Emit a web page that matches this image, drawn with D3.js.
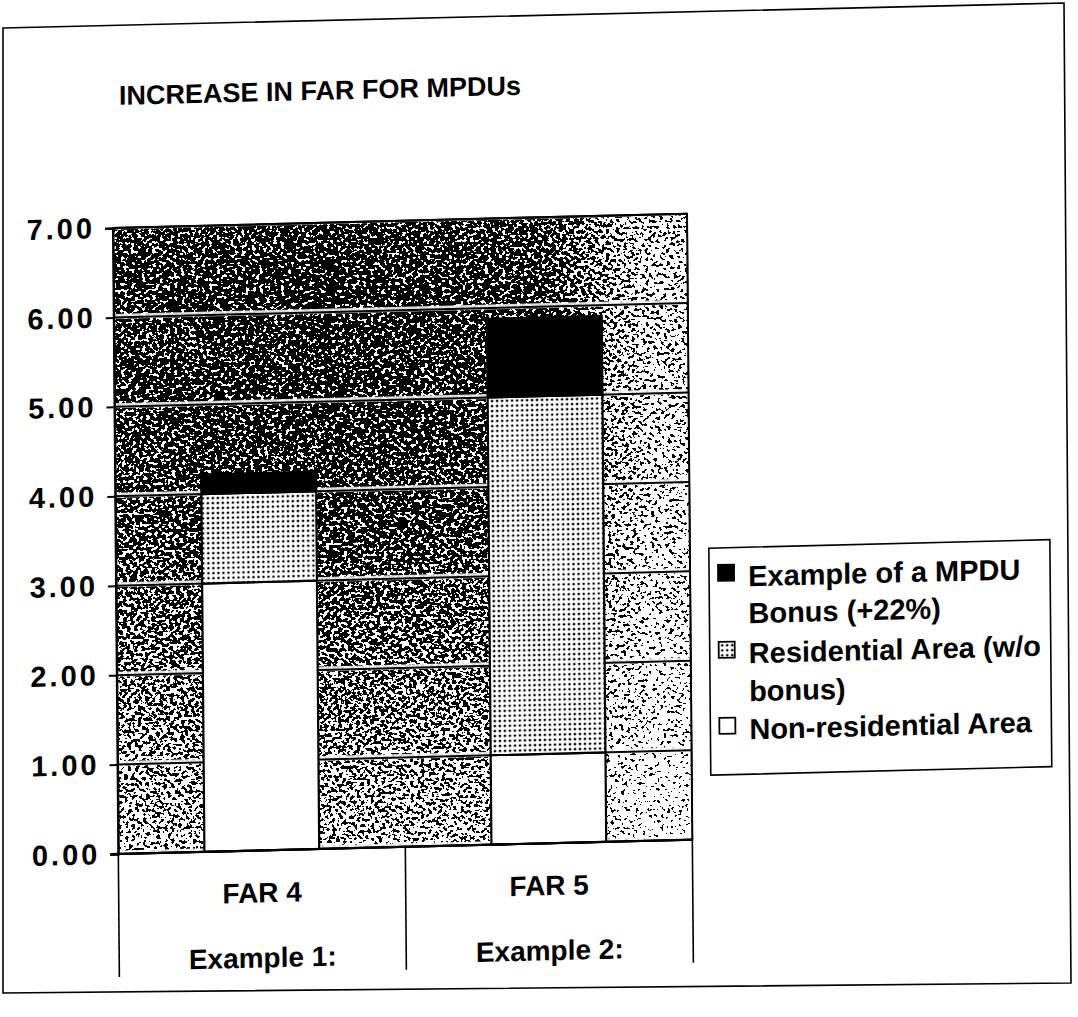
<!DOCTYPE html>
<html>
<head>
<meta charset="utf-8">
<script src="https://cdn.jsdelivr.net/npm/d3@7"></script>
<style>
  html, body { margin: 0; padding: 0; background: #fff; }
  svg { display: block; }
  text { font-family: "Liberation Sans", Arial, Helvetica, sans-serif; fill: #000; font-weight: bold; }
</style>
</head>
<body>
<svg id="chart" width="1078" height="1017"></svg>
<script>
// ---- data ----
const categories = ["FAR 4", "FAR 5"];
const categoryNotes = ["Example 1:", "Example 2:"];
const nonResidential = [3.0, 1.0];
const residential = [1.0, 4.0];
const mpduBonus = [0.22, 0.88];
const seriesKeys = ["nonResidential", "residential", "mpduBonus"];
const legendLines = [
  ["Example of a MPDU", "Bonus (+22%)"],
  ["Residential Area (w/o", "bonus)"],
  ["Non-residential Area"]
];
const legendKeys = ["mpduBonus", "residential", "nonResidential"];
const yTicks = [0, 1, 2, 3, 4, 5, 6, 7];
const titleText = "INCREASE IN FAR FOR MPDUs";

const rows = categories.map((c, i) => ({
  category: c,
  note: categoryNotes[i],
  nonResidential: nonResidential[i],
  residential: residential[i],
  mpduBonus: mpduBonus[i]
}));

// ---- layout ----
const plot = { left: 113, top: 228, width: 574, height: 626 };
const FONT = "\"Liberation Sans\", Arial, Helvetica, sans-serif";

const svg = d3.select("#chart");
const defs = svg.append("defs");

// grainy halftone used for the plot wall
const grain = defs.append("filter")
  .attr("id", "grain")
  .attr("x", 0).attr("y", 0).attr("width", 1).attr("height", 1)
  .attr("color-interpolation-filters", "sRGB");
grain.append("feTurbulence")
  .attr("type", "fractalNoise").attr("baseFrequency", "0.28 0.34")
  .attr("numOctaves", 3).attr("seed", 7).attr("result", "n");
grain.append("feColorMatrix")
  .attr("in", "n").attr("type", "matrix")
  .attr("values", "1 0 0 0 0  1 0 0 0 0  1 0 0 0 0  0 0 0 0 1")
  .attr("result", "ng");
grain.append("feComposite")
  .attr("in", "SourceGraphic").attr("in2", "ng")
  .attr("operator", "arithmetic")
  .attr("k1", 0).attr("k2", 1).attr("k3", 2.4).attr("k4", -1.2)
  .attr("result", "sum");
const ct = grain.append("feComponentTransfer").attr("in", "sum");
["feFuncR", "feFuncG", "feFuncB"].forEach(f =>
  ct.append(f).attr("type", "discrete").attr("tableValues", "0 1"));
ct.append("feFuncA").attr("type", "linear").attr("slope", 0).attr("intercept", 1);

// tone of the wall: darker in the upper middle, fading right and down
const rg = defs.append("radialGradient")
  .attr("id", "wallTone").attr("gradientUnits", "userSpaceOnUse")
  .attr("cx", plot.width * 0.36).attr("cy", plot.height * 0.15).attr("r", 640);
[[0, 0.27], [0.35, 0.34], [0.65, 0.5], [1, 0.72]].forEach(([o, g]) =>
  rg.append("stop").attr("offset", o).attr("stop-color", d3.rgb(g * 255, g * 255, g * 255)));

const lgH = defs.append("linearGradient")
  .attr("id", "wallRight").attr("gradientUnits", "userSpaceOnUse")
  .attr("x1", plot.width * 0.76).attr("y1", 0).attr("x2", plot.width * 0.92).attr("y2", 0);
lgH.append("stop").attr("offset", 0).attr("stop-color", "#fff").attr("stop-opacity", 0);
lgH.append("stop").attr("offset", 1).attr("stop-color", "#fff").attr("stop-opacity", 0.42);

// dotted fill for the residential segment
const dots = defs.append("pattern")
  .attr("id", "dots").attr("patternUnits", "userSpaceOnUse")
  .attr("width", 5).attr("height", 5);
dots.append("rect").attr("width", 5).attr("height", 5).attr("fill", "#fff");
dots.append("circle").attr("cx", 2.5).attr("cy", 2.5).attr("r", 1.3).attr("fill", "#000");

const fills = { nonResidential: "#fff", residential: "url(#dots)", mpduBonus: "#000" };

// outer frame
svg.append("path")
  .attr("d", "M3,28 L1064,3 L1071,983 L3,993 Z")
  .attr("fill", "none").attr("stroke", "#000").attr("stroke-width", 1.6);

// whole sheet sits slightly askew on the page
const a = 1, b = -0.025, c = 0.0085, d = 1;
const e = plot.left - (a * plot.left + c * plot.top);
const f = plot.top - (b * plot.left + d * plot.top);
const sheet = svg.append("g")
  .attr("transform", `matrix(${a},${b},${c},${d},${e},${f})`);

// title
sheet.append("text")
  .attr("x", 120).attr("y", 105)
  .attr("font-size", 27)
  .text(titleText);

// ---- scales ----
const x = d3.scaleBand().domain(categories)
  .range([0, plot.width]).paddingInner(0.6).paddingOuter(0.3);
const y = d3.scaleLinear().domain([0, 7]).range([plot.height, 0]);

const g = sheet.append("g").attr("transform", `translate(${plot.left},${plot.top})`);

// wall
const wall = g.append("g").attr("filter", "url(#grain)");
wall.append("rect").attr("width", plot.width).attr("height", plot.height).attr("fill", "url(#wallTone)");
wall.append("rect").attr("width", plot.width).attr("height", plot.height).attr("fill", "url(#wallRight)");

// gridlines (light halo keeps them readable over the grain)
const grid = g.append("g");
grid.selectAll("line.halo").data(yTicks).join("line")
  .attr("class", "halo")
  .attr("x1", 0).attr("x2", plot.width)
  .attr("y1", v => y(v) - 1).attr("y2", v => y(v) - 1)
  .attr("stroke", "#fff").attr("stroke-opacity", 0.85).attr("stroke-width", 5);
grid.selectAll("line.rule").data(yTicks).join("line")
  .attr("class", "rule")
  .attr("x1", 0).attr("x2", plot.width)
  .attr("y1", v => y(v)).attr("y2", v => y(v))
  .attr("stroke", "#000").attr("stroke-width", 2);

// stacked bars
const stack = d3.stack().keys(seriesKeys)(rows);
g.append("g").selectAll("g").data(stack).join("g")
  .attr("fill", s => fills[s.key])
  .selectAll("rect").data(s => s).join("rect")
  .attr("x", dd => x(dd.data.category))
  .attr("width", x.bandwidth())
  .attr("y", dd => y(dd[1]))
  .attr("height", dd => y(dd[0]) - y(dd[1]))
  .attr("stroke", "#000").attr("stroke-width", 2.2);

// plot border
g.append("rect").attr("width", plot.width).attr("height", plot.height)
  .attr("fill", "none").attr("stroke", "#000").attr("stroke-width", 2);

// value axis
const yAxis = g.append("g")
  .call(d3.axisLeft(y).tickValues(yTicks).tickFormat(d3.format(".2f")).tickSize(8).tickPadding(10));
yAxis.select(".domain").attr("stroke-width", 2);
yAxis.selectAll(".tick line").attr("stroke-width", 2);
yAxis.selectAll("text")
  .attr("font-family", FONT).attr("font-size", 29).attr("font-weight", "bold")
  .attr("letter-spacing", 3)
  .attr("fill", "#000");

// category axis: dividers and two-line labels
const catTable = g.append("g").attr("transform", `translate(0,${plot.height})`);
const edges = [0].concat(categories.map(cat => x(cat) + x.bandwidth() + x.step() * x.paddingInner() / 2));
edges[edges.length - 1] = plot.width;
catTable.selectAll("line.div").data(edges).join("line")
  .attr("class", "div")
  .attr("x1", v => v).attr("x2", v => v)
  .attr("y1", 0).attr("y2", 123)
  .attr("stroke", "#000").attr("stroke-width", 1.6);
catTable.append("line")
  .attr("x1", -8).attr("x2", plot.width).attr("y1", 0).attr("y2", 0)
  .attr("stroke", "#000").attr("stroke-width", 2.2);
const catLabels = catTable.selectAll("g.cat").data(rows).join("g")
  .attr("class", "cat")
  .attr("transform", r => `translate(${x(r.category) + x.bandwidth() / 2},0)`);
catLabels.append("text")
  .attr("y", 52).attr("text-anchor", "middle")
  .attr("font-size", 28)
  .text(r => r.category);
catLabels.append("text")
  .attr("y", 117).attr("text-anchor", "middle")
  .attr("font-size", 28)
  .text(r => r.note);

// legend
const legend = sheet.append("g").attr("transform", "translate(706,563)");
legend.append("rect").attr("width", 341).attr("height", 227)
  .attr("fill", "#fff").attr("stroke", "#000").attr("stroke-width", 1.6);
const rowCenters = [[28, 65], [105, 143], [181]];
legendKeys.forEach((k, i) => {
  const item = legend.append("g");
  item.append("rect")
    .attr("x", 9).attr("y", rowCenters[i][0] - 3 - 8)
    .attr("width", 16).attr("height", 16)
    .attr("fill", fills[k]).attr("stroke", "#000").attr("stroke-width", 1.8);
  item.selectAll("text").data(legendLines[i]).join("text")
    .attr("x", 39)
    .attr("y", (t, j) => rowCenters[i][j] + 11)
    .attr("font-size", 29)
    .text(t => t);
});
</script>
</body>
</html>
